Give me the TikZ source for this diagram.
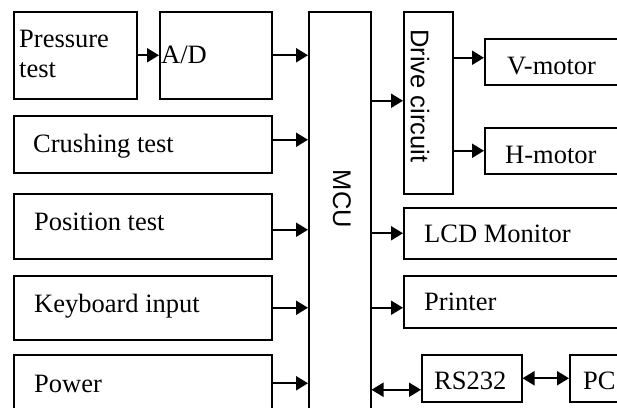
\documentclass[tikz,border=0pt]{standalone}
\usepackage{fontspec}
\setmainfont{Liberation Serif}
\newfontfamily\sansf{Liberation Sans}
\usetikzlibrary{arrows.meta}
\begin{document}
\begin{tikzpicture}[x=1pt,y=-1pt,
  box/.style={draw, line width=1.5pt, anchor=north west, inner sep=0pt, rectangle},
  lbl/.style={anchor=base west, inner sep=0pt, font=\fontsize{26.5}{30}\selectfont},
  vlbl/.style={rotate=-90, inner sep=0pt, font=\sansf\fontsize{25.5}{30}\selectfont},
  arr/.style={line width=2pt, -{Triangle[length=12pt,width=14pt]}},
  darr/.style={line width=2pt, {Triangle[length=12pt,width=14pt]}-{Triangle[length=12pt,width=14pt]}}]
\useasboundingbox (0,0) rectangle (617,407);
\clip (0,0) rectangle (617,407);
% boxes
\node[box, minimum width=123pt, minimum height=87pt] (press) at (13,11) {};
\node[box, minimum width=112pt, minimum height=87pt] (ad) at (159,11) {};
\node[box, minimum width=258pt, minimum height=57pt] (crush) at (13,115) {};
\node[box, minimum width=258pt, minimum height=65pt] (pos) at (13,193) {};
\node[box, minimum width=258pt, minimum height=64pt] (key) at (13,275) {};
\node[box, minimum width=258pt, minimum height=57pt] (power) at (13,354) {};
\node[box, minimum width=62pt, minimum height=420pt] (mcu) at (308,11) {};
\node[box, minimum width=49pt, minimum height=182pt] (drive) at (403,11) {};
\node[box, minimum width=170pt, minimum height=46pt] (vm) at (484,38) {};
\node[box, minimum width=170pt, minimum height=46pt] (hm) at (484,127) {};
\node[box, minimum width=250pt, minimum height=51pt] (lcd) at (403,207) {};
\node[box, minimum width=250pt, minimum height=52pt] (prn) at (403,275) {};
\node[box, minimum width=100pt, minimum height=47pt] (rs) at (421,354) {};
\node[box, minimum width=100pt, minimum height=47pt] (pc) at (569,354) {};
% labels
\node[lbl] (pressT1) at (19,47) {Pressure};
\node[lbl] (pressT2) at (19,77) {test};
\node[lbl] (adT) at (161,63) {A/D};
\node[lbl] (crushT) at (33,152) {Crushing test};
\node[lbl] (posT) at (34,230) {Position test};
\node[lbl] (keyT) at (34,312) {Keyboard input};
\node[lbl] (powerT) at (34,392) {Power};
\node[lbl] (vmT) at (507,74) {V-motor};
\node[lbl] (hmT) at (505,163) {H-motor};
\node[lbl] (lcdT) at (424,242) {LCD Monitor};
\node[lbl] (prnT) at (424,310) {Printer};
\node[lbl] (rsT) at (434,389) {RS232};
\node[lbl] (pcT) at (583,389) {PC};
\node[vlbl] (mcuT) at (342,199) {MCU};
\node[vlbl] (driveT) at (420,96) {Drive circuit};
% arrows
\draw[arr] (press.east) -- (ad.west);
\draw[arr] (ad.east) -- (ad.east -| mcu.west);
\draw[arr] ([yshift=4.5pt]crush.east) -- ([yshift=4.5pt]crush.east -| mcu.west);
\draw[arr] ([yshift=-3.5pt]pos.east) -- ([yshift=-3.5pt]pos.east -| mcu.west);
\draw[arr] (key.east) -- (key.east -| mcu.west);
\draw[arr] (power.east) -- (power.east -| mcu.west);
\draw[arr] ([yshift=2pt]drive.west -| mcu.east) -- ([yshift=2pt]drive.west);
\draw[arr] ([yshift=4pt]vm.west -| drive.east) -- ([yshift=4pt]vm.west);
\draw[arr] (hm.west -| drive.east) -- (hm.west);
\draw[arr] (lcd.west -| mcu.east) -- (lcd.west);
\draw[arr] ([yshift=-6pt]prn.west -| mcu.east) -- ([yshift=-6pt]prn.west);
\draw[darr] ([yshift=-11.5pt]rs.west -| mcu.east) -- ([yshift=-11.5pt]rs.west);
\draw[darr] (rs.east) -- (pc.west);
\end{tikzpicture}
\end{document}
